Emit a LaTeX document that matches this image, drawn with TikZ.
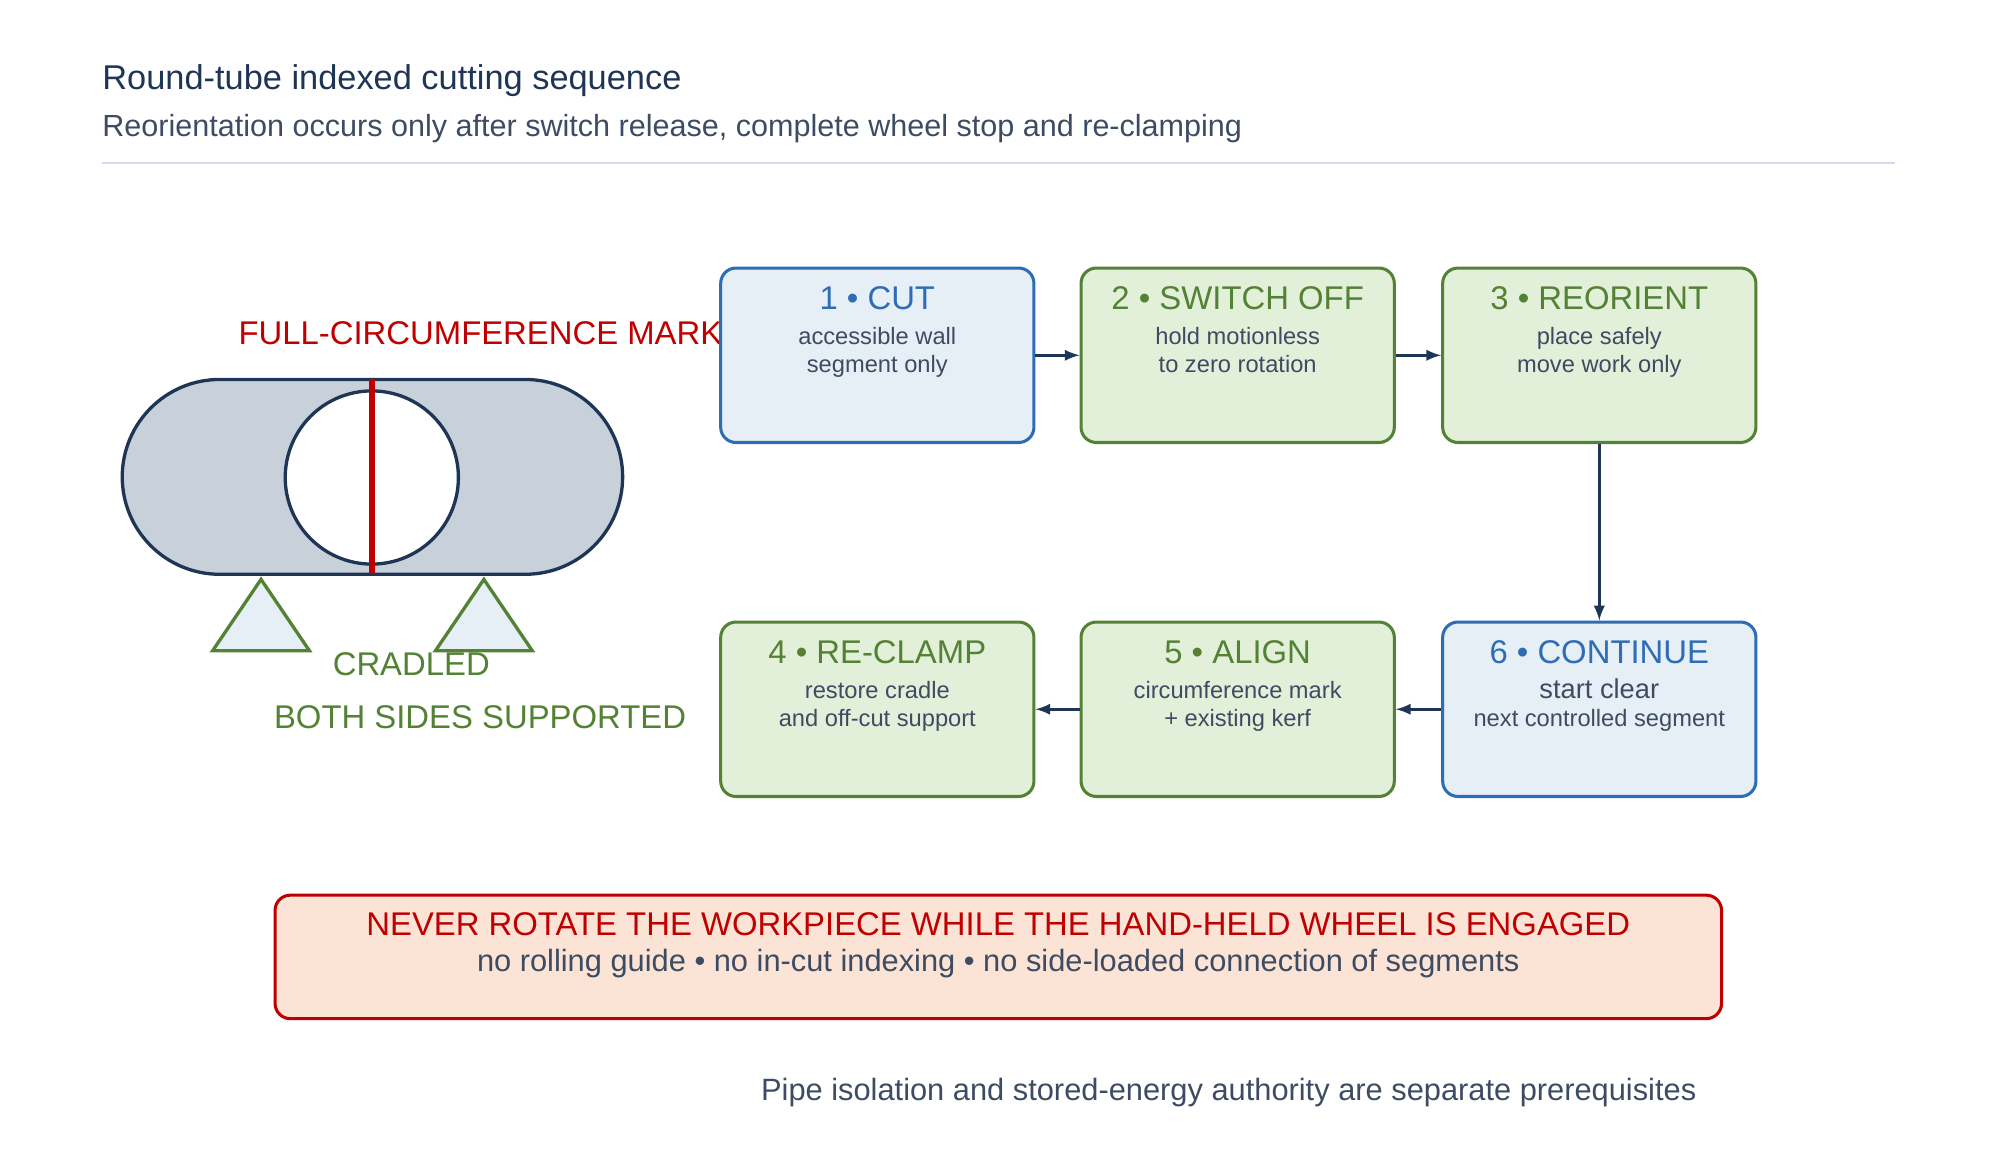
\documentclass[tikz,border=0pt]{standalone}
\usepackage{fontspec}
\setmainfont{Liberation Sans}
\usetikzlibrary{positioning}
\definecolor{navy}{HTML}{1F3556}
\definecolor{slate}{HTML}{3E4C63}
\definecolor{bluel}{HTML}{2E6DB4}
\definecolor{bluef}{HTML}{E6EEF6}
\definecolor{greenl}{HTML}{548235}
\definecolor{greenf}{HTML}{E2EFD9}
\definecolor{redl}{HTML}{C00000}
\definecolor{redf}{HTML}{FBE3D6}
\definecolor{pipef}{HTML}{C8D0D9}
\definecolor{rulec}{HTML}{D6DCF0}
\tikzset{
  stepbox/.style={draw, line width=1.2pt, rounded corners=6pt, minimum width=123pt,
    minimum height=68.5pt, align=center, anchor=center, font=\fontsize{9.3}{11}\selectfont},
  bluestep/.style={stepbox, draw=bluel, fill=bluef},
  greenstep/.style={stepbox, draw=greenl, fill=greenf},
  flow/.style={draw=navy, line width=1pt, -latex},
  cradle/.style={draw=greenl, fill=bluef, line width=1.3pt}
}
\newcommand{\steptext}[4]{\textcolor{#1}{\fontsize{12.9}{14}\selectfont #2}\\[3pt]\textcolor{slate}{#3}\\\textcolor{slate}{#4}\\[6pt]\strut}
\begin{document}
\begin{tikzpicture}[x=0.5pt,y=-0.5pt]
\useasboundingbox (0,0) rectangle (1566,912);
% heading
\node[anchor=west, inner sep=0pt, text=navy, font=\fontsize{13.5}{15}\selectfont] (title) at (80,63) {Round-tube indexed cutting sequence};
\node[anchor=west, inner sep=0pt, text=slate, font=\fontsize{12}{14}\selectfont] (subtitle) at (80,101) {Reorientation occurs only after switch release, complete wheel stop and re-clamping};
\draw[rulec, line width=0.8pt] (80,128) -- (1488,128);
% pipe
\node[anchor=west, inner sep=0pt, text=redl, font=\fontsize{12.9}{14}\selectfont] (marklabel) at (187,262) {FULL-CIRCUMFERENCE MARK};
\draw[navy, fill=pipef, line width=1.3pt, rounded corners=38.25pt] (96,298) rectangle (489,451);
\draw[navy, fill=white, line width=1.3pt] (292,375) circle (68);
\draw[redl, line width=2.2pt] (292,298) -- (292,451);
\draw[cradle] (167,511) -- (205,455) -- (243,511) -- cycle;
\draw[cradle] (342,511) -- (380,455) -- (418,511) -- cycle;
\node[text=greenl, font=\fontsize{12.9}{14}\selectfont] (cradled) at (323,522) {CRADLED};
\node[text=greenl, font=\fontsize{12.9}{14}\selectfont] (sides) at (377,563) {BOTH SIDES SUPPORTED};
% steps
\node[bluestep] (s1) at (689,279) {\steptext{bluel}{1 • CUT}{accessible wall}{segment only}};
\node[greenstep] (s2) at (972,279) {\steptext{greenl}{2 • SWITCH OFF}{hold motionless}{to zero rotation}};
\node[greenstep] (s3) at (1256,279) {\steptext{greenl}{3 • REORIENT}{place safely}{move work only}};
\node[greenstep] (s4) at (689,557) {\steptext{greenl}{4 • RE-CLAMP}{restore cradle}{and off-cut support}};
\node[greenstep] (s5) at (972,557) {\steptext{greenl}{5 • ALIGN}{circumference mark}{+ existing kerf}};
\node[bluestep] (s6) at (1256,557) {\steptext{bluel}{6 • CONTINUE}{\fontsize{10.7}{11}\selectfont start clear}{next controlled segment}};
\draw[flow] (s1) -- (s2);
\draw[flow] (s2) -- (s3);
\draw[flow] (s3) -- (s6);
\draw[flow] (s6) -- (s5);
\draw[flow] (s5) -- (s4);
% warning
\node[draw=redl, fill=redf, line width=1.2pt, rounded corners=6pt, minimum width=568pt, minimum height=48.5pt, align=center] (warn) at (784,751.5)
  {\textcolor{redl}{\fontsize{12.9}{14}\selectfont NEVER ROTATE THE WORKPIECE WHILE THE HAND-HELD WHEEL IS ENGAGED}\\[2pt]
   \textcolor{slate}{\fontsize{12.1}{13}\selectfont no rolling guide • no in-cut indexing • no side-loaded connection of segments}\\[-4pt]\strut};
\node[text=slate, font=\fontsize{12.1}{13}\selectfont] (foot) at (965,858) {Pipe isolation and stored-energy authority are separate prerequisites};
\end{tikzpicture}
\end{document}
